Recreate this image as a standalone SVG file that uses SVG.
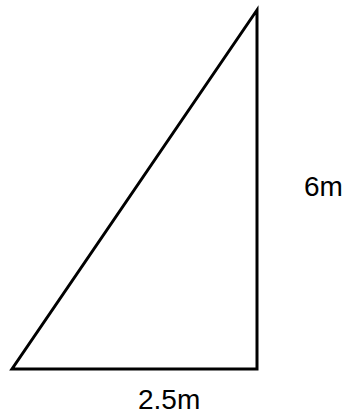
<svg xmlns="http://www.w3.org/2000/svg" width="348" height="416" viewBox="0 0 348 416">
<style>
.lbl{font-family:"Liberation Sans",Arial,sans-serif;font-size:28px;fill:#000}
.tri{fill:none;stroke:#000;stroke-width:3;stroke-linejoin:miter}
</style>
<rect width="348" height="416" fill="#fff"/>
<g id="triangle">
<polygon class="tri" points="257,10 257,369 12,369"/>
</g>
<g id="label-height"><text class="lbl" x="304" y="196">6m</text></g>
<g id="label-base"><text class="lbl" x="138" y="409">2.5m</text></g>
</svg>
